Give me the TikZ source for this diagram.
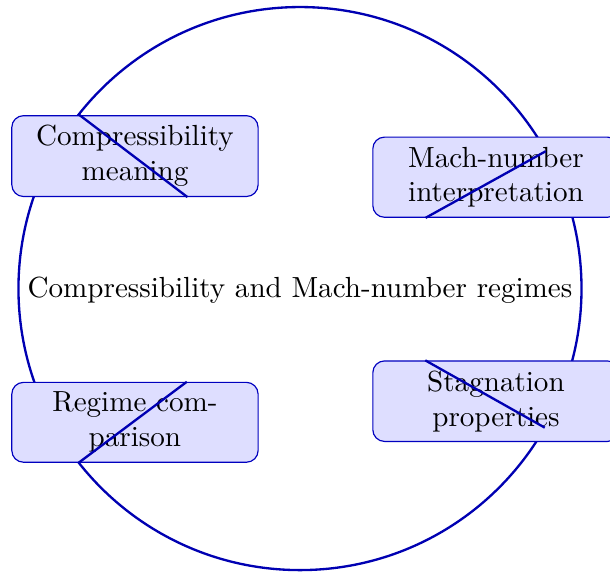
\documentclass[tikz,border=0pt]{standalone}
\usepackage{tikz}
\usetikzlibrary{shapes,arrows,positioning}
\usetikzlibrary{arrows.meta}

\begin{document}
\begin{tikzpicture}[
    ring/.style={circle, draw=blue!70!black, thick, minimum size=68mm},
    topic/.style={rectangle, draw=blue!75!black, fill=blue!13, text width=2.74cm, align=center, rounded corners=4pt},
    spoke/.style={thick, blue!70!black}
]

% Fixed frame
\useasboundingbox (-3.623, -3.412) rectangle (3.744, 3.485);

% Outer ring
\node[ring] (ring) at (0, 0) {};
\node (title) at (0, -0.02) {Compressibility and Mach-number regimes};

% Topic boxes
\node[topic] (meaning) at (-1.993, 1.600) {Compressibility meaning};
\node[topic] (mach) at (2.367, 1.345) {Mach-number interpretation};
\node[topic] (regime) at (-1.993, -1.615) {Regime comparison};
\node[topic] (stag) at (2.367, -1.360) {Stagnation properties};

% Points on the ring
\coordinate (p1) at (141.8:3.4);
\coordinate (p2) at (29.2:3.4);
\coordinate (p3) at (218.2:3.4);
\coordinate (p4) at (-29.6:3.4);

% Spokes through the boxes
\draw[spoke] (p1) -- (meaning.-38.2);
\draw[spoke] (p2) -- (mach.-150.8);
\draw[spoke] (p3) -- (regime.38.2);
\draw[spoke] (p4) -- (stag.150.4);

\end{tikzpicture}
\end{document}
